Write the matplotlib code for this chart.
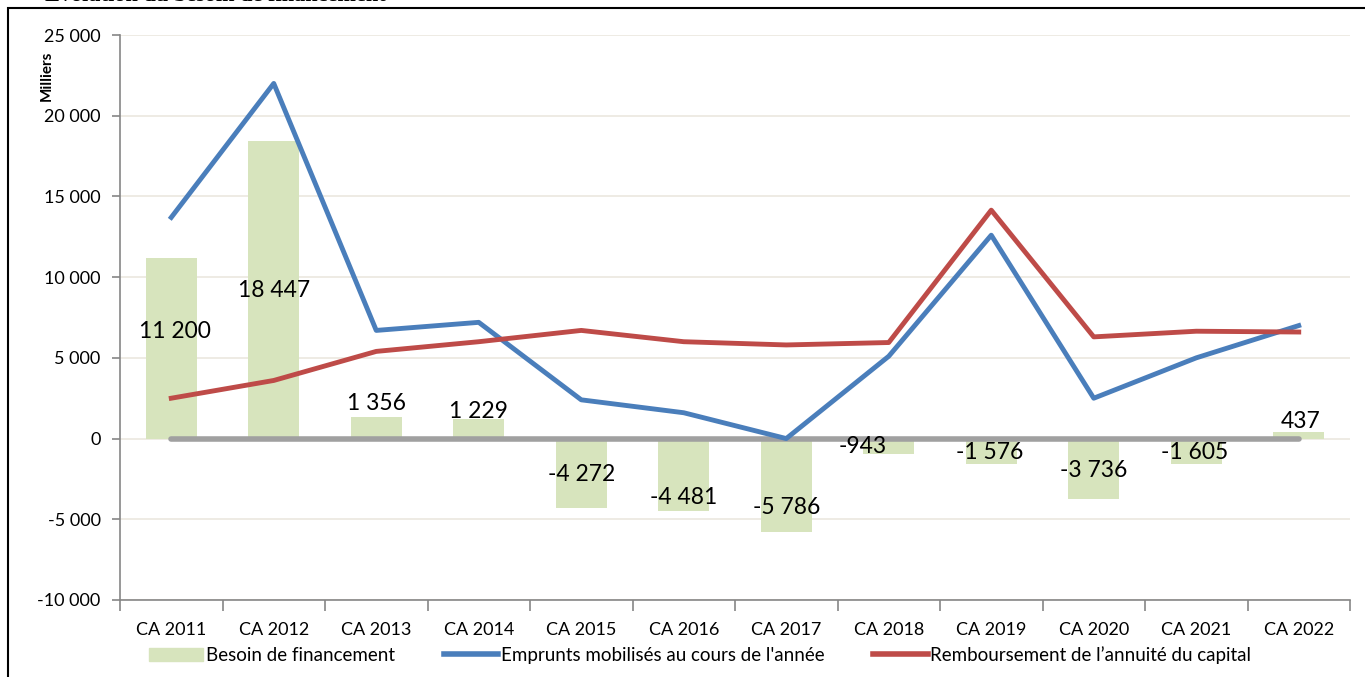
import matplotlib.pyplot as plt
from matplotlib.patches import Rectangle
from matplotlib.lines import Line2D
from matplotlib.patches import Patch

# Données (en milliers)
annees = ["CA 2011", "CA 2012", "CA 2013", "CA 2014", "CA 2015", "CA 2016",
          "CA 2017", "CA 2018", "CA 2019", "CA 2020", "CA 2021", "CA 2022"]
besoin = [11200, 18447, 1356, 1229, -4272, -4481, -5786, -943, -1576, -3736, -1605, 437]
emprunts = [13700, 22000, 6700, 7200, 2400, 1600, 0, 5100, 12600, 2500, 5000, 7000]
remboursement = [2500, 3600, 5400, 6000, 6700, 6000, 5800, 5950, 14150, 6300, 6650, 6600]
etiquettes = ["11 200", "18 447", "1 356", "1 229", "-4 272", "-4 481", "-5 786",
              "-943", "-1 576", "-3 736", "-1 605", "437"]

# position des étiquettes (déplacées à la main comme dans Excel)
etiq_y = [6650, 9150, 2150, 1700, -2200, -3650, -4300, -500, -880, -1950, -880, 1050]
etiq_dx = [0.04, 0, 0, 0, 0, 0, 0, -0.25, -0.02, 0, -0.02, 0.02]

plt.rcParams['font.family'] = ['Lato', 'DejaVu Sans']

fig = plt.figure(figsize=(13.65, 6.77), dpi=100)
ax = fig.add_axes([120 / 1365, 1 - 600 / 677, 1230 / 1365, 565 / 677])

x = range(len(annees))
vert = "#d7e4bd"
bleu = "#4a7ebb"
rouge = "#be4b48"

ax.bar(x, besoin, width=0.5, color=vert, zorder=2)
ax.plot(x, [0] * len(annees), color="#a0a0a0", lw=4, zorder=3, solid_capstyle="round")
ax.plot(x, emprunts, color=bleu, lw=3.5, zorder=4)
ax.plot(x, remboursement, color=rouge, lw=3.5, zorder=4)

for i in x:
    ax.text(i + etiq_dx[i], etiq_y[i], etiquettes[i], ha="center", va="center",
            fontsize=16.5, zorder=5)

ax.set_xlim(-0.5, len(annees) - 0.5)
ax.set_ylim(-10000, 25000)
ax.set_yticks(range(-10000, 25001, 5000))
ax.set_yticklabels(["-10 000", "-5 000", "0", "5 000", "10 000", "15 000", "20 000", "25 000"])
ax.yaxis.grid(True, color="#ebe8df", lw=1.2, zorder=0)
ax.set_axisbelow(True)

ax.set_xticks(list(x))
ax.set_xticklabels(annees)
ax.set_xticks([i - 0.5 for i in range(len(annees) + 1)], minor=True)
ax.tick_params(axis="x", which="major", length=0, pad=16, labelsize=13)
ax.tick_params(axis="x", which="minor", length=8, color="#868686", width=1.2)
ax.tick_params(axis="y", length=6, color="#868686", width=1.2, labelsize=13, pad=8)

for s in ["top", "right"]:
    ax.spines[s].set_visible(False)
for s in ["left", "bottom"]:
    ax.spines[s].set_color("#868686")
    ax.spines[s].set_linewidth(1.2)

fig.text(47 / 1365, 1 - 76 / 677, "Milliers", rotation=90, fontsize=11,
         fontweight="bold", ha="center", va="center")

# titre coupé en haut
fig.text(45 / 1365, 1 + 4 / 677, "Evolution du besoin de financement",
         family="Liberation Serif", fontweight="bold", fontsize=16, va="center")

# cadre
fig.patches.append(Rectangle((8 / 1365, -0.05), 1.1, 1 - 8 / 677 + 0.05,
                             transform=fig.transFigure, fill=False,
                             edgecolor="black", lw=1.5))

handles = [Patch(color=vert),
           Line2D([], [], color=bleu, lw=4),
           Line2D([], [], color=rouge, lw=4)]
labels = ["Besoin de financement", "Emprunts mobilisés au cours de l'année",
          "Remboursement de l’annuité du capital"]
fig.legend(handles, labels, loc="center", bbox_to_anchor=(700 / 1365, 1 - 655 / 677),
           ncol=3, frameon=False, fontsize=13.5, handlelength=2.9, handletextpad=0.15,
           columnspacing=2.6)

fig.savefig("out.png", dpi=100)
